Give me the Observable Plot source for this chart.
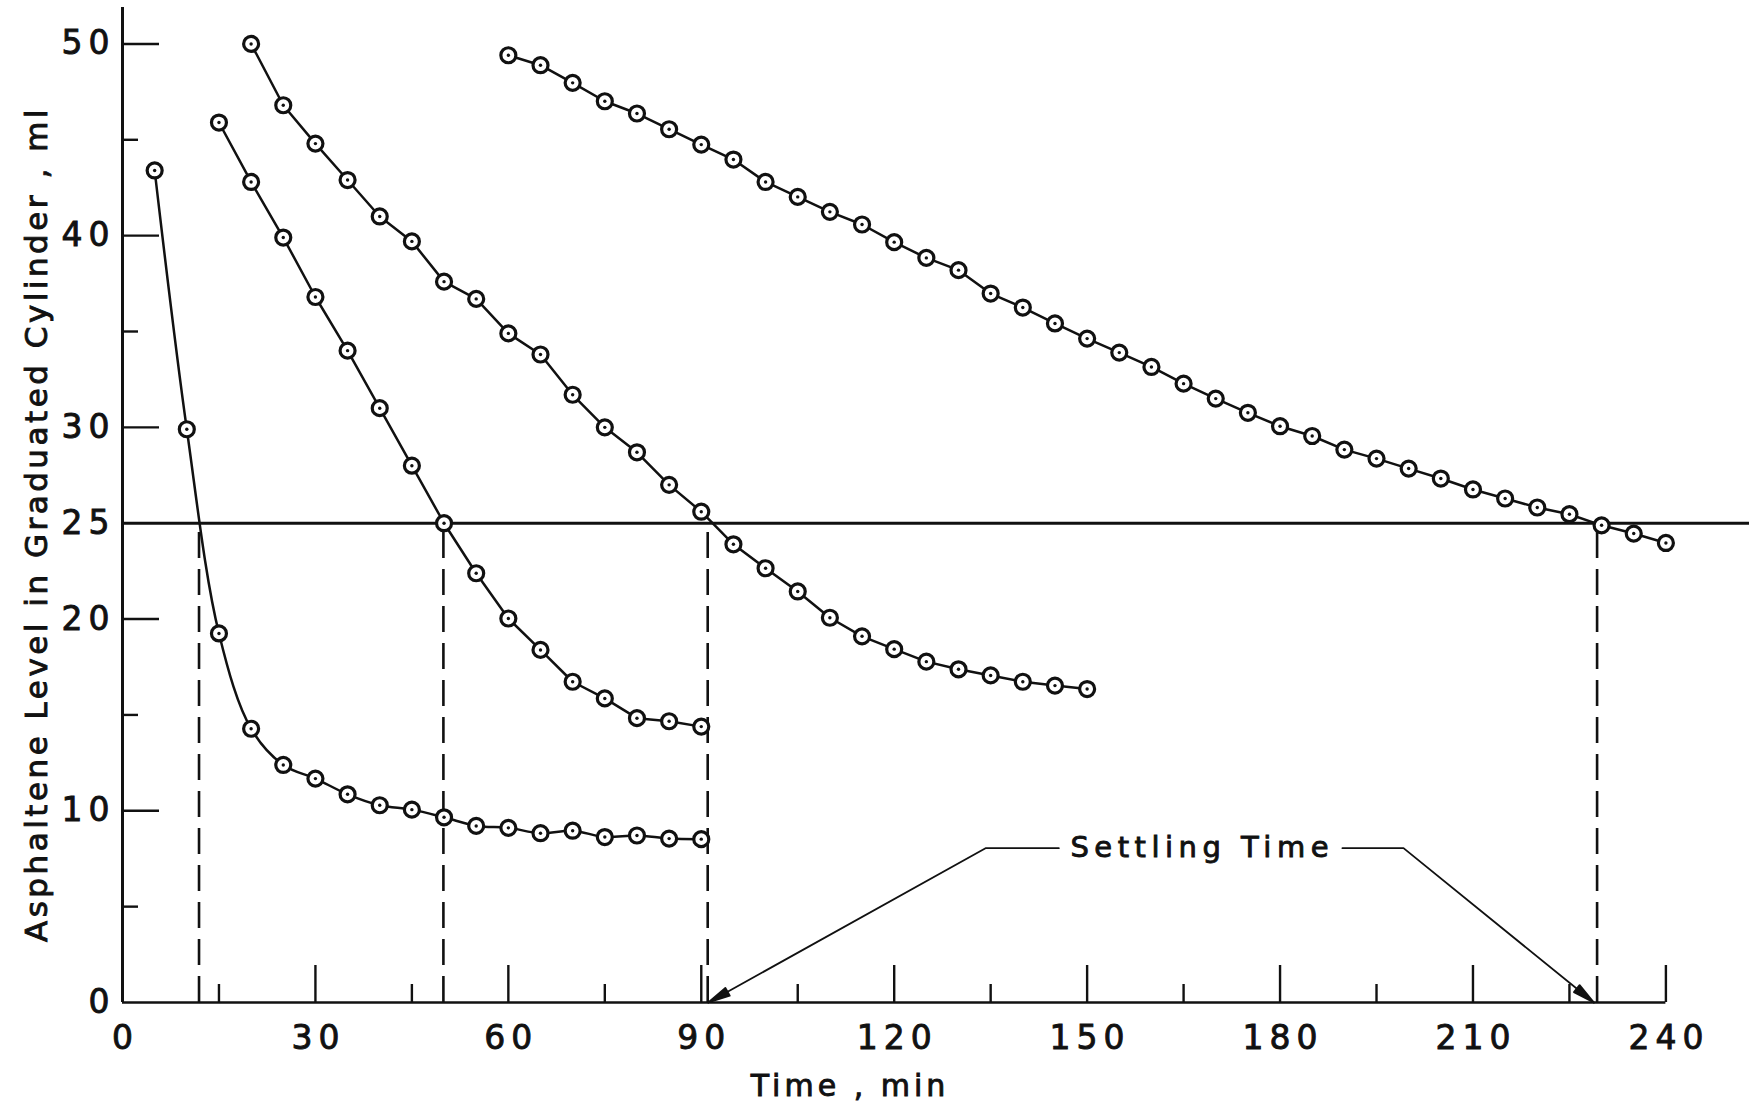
<!DOCTYPE html>
<html>
<head>
<meta charset="utf-8">
<script src="https://cdn.jsdelivr.net/npm/d3@7"></script>
<script src="https://cdn.jsdelivr.net/npm/@observablehq/plot@0.6"></script>
<style>
  html, body { margin: 0; padding: 0; background: #fff; }
  #chart { width: 1760px; height: 1113px; }
</style>
</head>
<body>
<div id="chart"></div>
<script>
// ---- tick values ----
const xTickLabels = [0, 30, 60, 90, 120, 150, 180, 210, 240];
const xMajorTicks = [30, 60, 90, 120, 150, 180, 210, 240];
const xMinorTicks = [15, 45, 75, 105, 135, 165, 195, 225];
const yTickLabels = [0, 10, 20, 25, 30, 40, 50];
const yMajorTicks = [10, 20, 30, 40, 50];
const yMinorTicks = [5, 15, 35, 45];

// ---- series (time in min, asphaltene level in ml) ----
const run1Time  = [5, 10, 15, 20, 25, 30, 35, 40, 45, 50, 55, 60, 65, 70, 75, 80, 85, 90];
const run1Level = [43.4, 29.9, 19.25, 14.28, 12.39, 11.68, 10.86, 10.29, 10.06, 9.66, 9.21, 9.11, 8.83, 8.96, 8.63, 8.71, 8.55, 8.52];

const run2Time  = [15, 20, 25, 30, 35, 40, 45, 50, 55, 60, 65, 70, 75, 80, 85, 90];
const run2Level = [45.9, 42.8, 39.9, 36.8, 34.0, 31.0, 28.0, 25.0, 22.39, 20.03, 18.39, 16.73, 15.86, 14.83, 14.67, 14.39];

const run3Time  = [20, 25, 30, 35, 40, 45, 50, 55, 60, 65, 70, 75, 80, 85, 90, 95, 100, 105, 110, 115, 120, 125, 130, 135, 140, 145, 150];
const run3Level = [50.0, 46.8, 44.8, 42.9, 41.0, 39.7, 37.6, 36.7, 34.9, 33.8, 31.7, 30.0, 28.7, 27.0, 25.6, 23.9, 22.65, 21.44, 20.07, 19.1, 18.43, 17.78, 17.38, 17.06, 16.73, 16.53, 16.35];

const run4Time  = [60, 65, 70, 75, 80, 85, 90, 95, 100, 105, 110, 115, 120, 125, 130, 135, 140, 145, 150, 155, 160, 165, 170, 175, 180, 185, 190, 195, 200, 205, 210, 215, 220, 225, 230, 235, 240];
const run4Level = [49.41, 48.89, 47.97, 47.01, 46.37, 45.55, 44.75, 43.97, 42.8, 42.02, 41.24, 40.58, 39.66, 38.84, 38.2, 36.98, 36.25, 35.42, 34.63, 33.9, 33.15, 32.28, 31.5, 30.76, 30.06, 29.55, 28.84, 28.37, 27.85, 27.33, 26.76, 26.29, 25.82, 25.47, 24.89, 24.46, 23.97];

// ---- reference level and settling times ----
const referenceLevel = [25];
const settlingTimes = [11.9, 49.9, 91.0, 229.3];

// ---- annotation ----
const annotationLabel = ["Settling Time"];
const annotationAnchor = [147.4, 8.05];           // time, level of text start
const leaderLeftTime   = [145.6, 134.2, 91.1];
const leaderLeftLevel  = [8.05, 8.05, 0];
const leaderRightTime  = [189.7, 199.2, 228.8];
const leaderRightLevel = [8.05, 8.05, 0];

const xTitle = "Time , min";
const yTitle = "Asphaltene Level in Graduated Cylinder , ml";

// ---- build rows ----
const rows = (ts, vs) => ts.map((t, i) => ({t, v: vs[i]}));
const run1 = rows(run1Time, run1Level);
const run2 = rows(run2Time, run2Level);
const run3 = rows(run3Time, run3Level);
const run4 = rows(run4Time, run4Level);
const allPoints = [...run1, ...run2, ...run3, ...run4];
const leaderLeft = rows(leaderLeftTime, leaderLeftLevel);
const leaderRight = rows(leaderRightTime, leaderRightLevel);
const annotationRows = annotationLabel.map(s => ({t: annotationAnchor[0], v: annotationAnchor[1], s}));

const ink = "#111";

function filledArrow(color) {
  const ns = "http://www.w3.org/2000/svg";
  const m = document.createElementNS(ns, "marker");
  m.setAttribute("viewBox", "-24 -6 26 12");
  m.setAttribute("markerUnits", "userSpaceOnUse");
  m.setAttribute("markerWidth", "26");
  m.setAttribute("markerHeight", "12");
  m.setAttribute("refX", "0");
  m.setAttribute("refY", "0");
  m.setAttribute("orient", "auto");
  const p = document.createElementNS(ns, "path");
  p.setAttribute("d", "M0,0L-22,-4.5L-22,4.5Z");
  p.setAttribute("fill", color);
  m.appendChild(p);
  return m;
}

const chart = Plot.plot({
  width: 1760,
  height: 1113,
  marginLeft: 122,
  marginRight: 11,
  marginTop: 7,
  marginBottom: 111,
  x: {domain: [0, 253], label: null},
  y: {domain: [0, 51.9], label: null},
  style: {fontFamily: "'DejaVu Sans', sans-serif", fontSize: "33px", color: ink, background: "#fff"},
  marks: [
    // axis lines
    Plot.ruleX([0], {y1: 0, y2: 51.9, stroke: ink, strokeWidth: 3}),
    Plot.ruleY([0], {x1: 0, x2: 240, stroke: ink, strokeWidth: 2.6}),
    // inward ticks
    Plot.axisX(xMajorTicks, {tickSize: -37, text: null, label: null, stroke: ink, strokeWidth: 2.4}),
    Plot.axisX(xMinorTicks, {tickSize: -18, text: null, label: null, stroke: ink, strokeWidth: 2.4}),
    Plot.axisY(yMajorTicks, {tickSize: -37, text: null, label: null, stroke: ink, strokeWidth: 2.4}),
    Plot.axisY(yMinorTicks, {tickSize: -16, text: null, label: null, stroke: ink, strokeWidth: 2.4}),
    // tick labels
    Plot.axisX(xTickLabels, {tickSize: 0, tickPadding: 23, dx: 3, label: null, fill: ink}),
    Plot.axisY(yTickLabels, {tickSize: 0, tickPadding: 7, label: null, fill: ink}),
    // reference level line and settling-time drop lines
    Plot.ruleY(referenceLevel, {x1: 0, x2: 253, stroke: ink, strokeWidth: 3}),
    Plot.ruleX(settlingTimes, {y1: 0, y2: referenceLevel[0], stroke: ink, strokeWidth: 2.6, strokeDasharray: "26,11"}),
    // data curves
    Plot.line(run1, {x: "t", y: "v", curve: "catmull-rom", stroke: ink, strokeWidth: 2.5}),
    Plot.line(run2, {x: "t", y: "v", stroke: ink, strokeWidth: 2.5}),
    Plot.line(run3, {x: "t", y: "v", stroke: ink, strokeWidth: 2.5}),
    Plot.line(run4, {x: "t", y: "v", stroke: ink, strokeWidth: 2.5}),
    Plot.dot(allPoints, {x: "t", y: "v", r: 7.5, fill: "#fff", stroke: ink, strokeWidth: 3.2}),
    Plot.dot(allPoints, {x: "t", y: "v", r: 1.7, fill: ink}),
    // annotation
    Plot.line(leaderLeft, {x: "t", y: "v", stroke: ink, strokeWidth: 1.8, markerEnd: filledArrow}),
    Plot.line(leaderRight, {x: "t", y: "v", stroke: ink, strokeWidth: 1.8, markerEnd: filledArrow}),
    Plot.text(annotationRows, {x: "t", y: "v", text: "s", textAnchor: "start", lineAnchor: "middle", fontSize: 29, fill: ink}),
    // axis titles
    Plot.text([xTitle], {text: d => d, frameAnchor: "bottom", dx: -86, dy: 84, lineAnchor: "middle", fontSize: 30, fill: ink}),
    Plot.text([yTitle], {text: d => d, frameAnchor: "left", dx: -85, dy: 19, rotate: -90, textAnchor: "middle", lineAnchor: "middle", fontSize: 31, fill: ink})
  ]
});

document.getElementById("chart").appendChild(chart);

// letter spacing and heavier lettering, like the drafted original
const svg = d3.select(chart);
svg.selectAll("text").each(function () {
  const t = this.textContent;
  let ls = 6;
  if (t === xTitle) ls = 4;
  else if (t === yTitle) ls = 3.5;
  else if (t === annotationLabel[0]) ls = 5.5;
  d3.select(this).style("letter-spacing", ls + "px")
    .attr("stroke", ink).attr("stroke-width", 0.9);
});
</script>
</body>
</html>
